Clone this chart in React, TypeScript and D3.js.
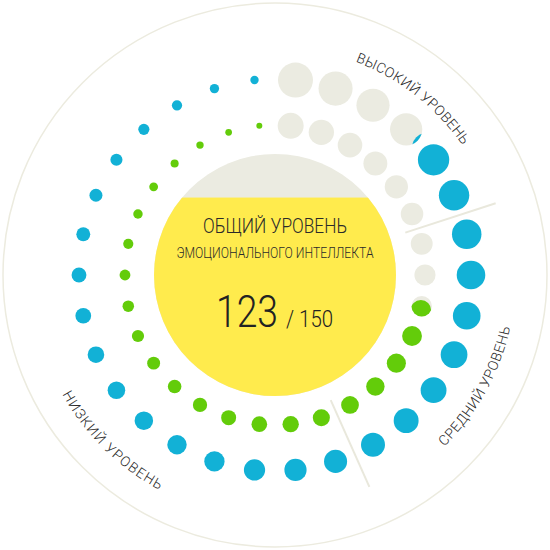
import * as d3 from 'd3';
import { useRef, useEffect } from 'react';

// scores
const totalScore = 123;
const maxScore = 150;
const pointsPerDot = 5;

// the two dotted rings (outer first)
const ringNames = ['outer', 'inner'];
const ringScores = [130.5, 109];
const ringColors = ['#12b1d6', '#63cc0a'];

// level zones along the ring
const levelNames = ['НИЗКИЙ УРОВЕНЬ', 'СРЕДНИЙ УРОВЕНЬ', 'ВЫСОКИЙ УРОВЕНЬ'];
const levelBounds = [0, 85, 120, 150];

const titleLines = ['ОБЩИЙ УРОВЕНЬ', 'ЭМОЦИОНАЛЬНОГО ИНТЕЛЛЕКТА'];

const EmptyColor = '#ebebe1';
const FONT = 'Roboto, "Open Sans", sans-serif';

const App = () => {
    const svgRef = useRef<SVGSVGElement | null>(null);

    useEffect(() => {
        const size = 550;
        const cx = 275, cy = 275;

        d3.select(svgRef.current).selectAll('*').remove();
        const svg = d3.select(svgRef.current)
            .attr('width', size)
            .attr('height', size);
        const defs = svg.append('defs');

        // angle measured clockwise from 12 o'clock; score grows counter-clockwise
        const angle = d3.scaleLinear().domain([0, maxScore]).range([0, -2 * Math.PI]);
        const pos = (r: number, a: number) => [cx + r * Math.sin(a), cy - r * Math.cos(a)];

        // outer thin circle
        svg.append('circle')
            .attr('cx', cx).attr('cy', cy).attr('r', 272)
            .attr('fill', 'none')
            .attr('stroke', '#ecebdf')
            .attr('stroke-width', 1.5);

        // central gauge
        const gaugeR = 121;
        defs.append('clipPath').attr('id', 'gauge-clip')
            .append('circle').attr('cx', cx).attr('cy', cy).attr('r', gaugeR);
        const level = d3.scaleLinear().domain([0, maxScore]).range([cy + gaugeR, cy - gaugeR]);
        const gauge = svg.append('g').attr('clip-path', 'url(#gauge-clip)');
        gauge.append('rect')
            .attr('x', cx - gaugeR).attr('y', cy - gaugeR)
            .attr('width', gaugeR * 2).attr('height', gaugeR * 2)
            .attr('fill', EmptyColor);
        gauge.append('rect')
            .attr('x', cx - gaugeR).attr('y', level(totalScore))
            .attr('width', gaugeR * 2).attr('height', cy + gaugeR - level(totalScore))
            .attr('fill', '#ffeb4d');

        // dotted rings
        const nDots = maxScore / pointsPerDot;
        const ringRadius = [196, 150];
        const dotSizes = [[4.2, 17.5], [3, 13]];

        ringNames.forEach((name, i) => {
            const sizeScale = d3.scaleLinear().domain([0, nDots - 1]).range(dotSizes[i]);
            const dots = d3.range(nDots).map(k => ({
                k,
                a: angle(k * pointsPerDot + pointsPerDot / 2),
                r: sizeScale(k),
                frac: Math.max(0, Math.min(1, (ringScores[i] - k * pointsPerDot) / pointsPerDot)),
            }));
            const g = svg.append('g').attr('class', `ring-${name}`);
            dots.forEach(d => {
                const [x, y] = pos(ringRadius[i], d.a);
                g.append('circle')
                    .attr('cx', x).attr('cy', y).attr('r', d.r)
                    .attr('fill', d.frac >= 1 ? ringColors[i] : EmptyColor);
                if (d.frac > 0 && d.frac < 1) {
                    // partly filled dot: shifted copy clipped by the dot
                    const id = `clip-${name}-${d.k}`;
                    defs.append('clipPath').attr('id', id)
                        .append('circle').attr('cx', x).attr('cy', y).attr('r', d.r);
                    const shift = (1 - d.frac) * 2 * d.r;
                    g.append('circle')
                        .attr('clip-path', `url(#${id})`)
                        .attr('cx', x + shift * Math.cos(d.a))
                        .attr('cy', y + shift * Math.sin(d.a))
                        .attr('r', d.r)
                        .attr('fill', ringColors[i]);
                }
            });
        });

        // zone separators
        levelBounds.slice(1, -1).forEach(b => {
            const [x1, y1] = pos(137, angle(b));
            const [x2, y2] = pos(232, angle(b));
            svg.append('line')
                .attr('x1', x1).attr('y1', y1).attr('x2', x2).attr('y2', y2)
                .attr('stroke', '#e9e8dc')
                .attr('stroke-width', 2);
        });

        // zone labels on arcs
        const labelAt = [224.5, 119, 38];     // degrees clockwise from top
        const labelR = [244, 241, 228];
        const clockwise = [false, false, true];
        levelNames.forEach((label, i) => {
            const c = (labelAt[i] - 90) * Math.PI / 180;
            const span = Math.PI / 3;
            const p = d3.path();
            if (clockwise[i]) {
                p.moveTo(cx + labelR[i] * Math.cos(c - span), cy + labelR[i] * Math.sin(c - span));
                p.arc(cx, cy, labelR[i], c - span, c + span, false);
            } else {
                p.moveTo(cx + labelR[i] * Math.cos(c + span), cy + labelR[i] * Math.sin(c + span));
                p.arc(cx, cy, labelR[i], c + span, c - span, true);
            }
            defs.append('path').attr('id', `label-arc-${i}`).attr('d', p.toString());
            svg.append('text')
                .attr('font-family', FONT)
                .attr('font-weight', 300)
                .attr('font-size', 14)
                .attr('fill', '#2a2a2a')
                .append('textPath')
                .attr('href', `#label-arc-${i}`)
                .attr('startOffset', '50%')
                .attr('text-anchor', 'middle')
                .attr('textLength', 138)
                .attr('lengthAdjust', 'spacing')
                .text(label);
        });

        // center texts
        svg.append('text')
            .attr('x', cx).attr('y', 233)
            .attr('text-anchor', 'middle')
            .attr('font-family', FONT).attr('font-weight', 300)
            .attr('font-size', 21)
            .attr('textLength', 144).attr('lengthAdjust', 'spacingAndGlyphs')
            .attr('fill', '#2a2a2a')
            .text(titleLines[0]);
        svg.append('text')
            .attr('x', cx).attr('y', 258)
            .attr('text-anchor', 'middle')
            .attr('font-family', FONT).attr('font-weight', 300)
            .attr('font-size', 15)
            .attr('textLength', 197).attr('lengthAdjust', 'spacingAndGlyphs')
            .attr('fill', '#2a2a2a')
            .text(titleLines[1]);
        svg.append('text')
            .attr('x', 216).attr('y', 327)
            .attr('font-family', FONT).attr('font-weight', 300)
            .attr('font-size', 45)
            .attr('textLength', 62).attr('lengthAdjust', 'spacingAndGlyphs')
            .attr('fill', '#222')
            .text(totalScore);
        svg.append('text')
            .attr('x', 286).attr('y', 327)
            .attr('font-family', FONT).attr('font-weight', 300)
            .attr('font-size', 23)
            .attr('textLength', 47).attr('lengthAdjust', 'spacingAndGlyphs')
            .attr('fill', '#222')
            .text(`/ ${maxScore}`);
    }, []);

    return (
        <svg ref={svgRef} style={{ position: 'absolute', left: 0, top: 0 }}></svg>
    );
};

export default App;
